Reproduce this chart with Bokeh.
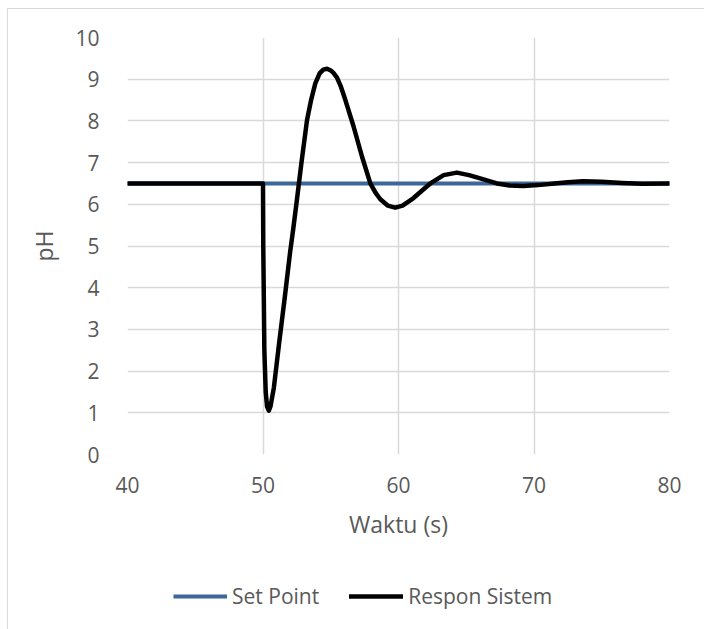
from bokeh.plotting import figure
from bokeh.models import Legend, LegendItem, FixedTicker
from bokeh.layouts import column
from bokeh.embed import file_html
from bokeh.resources import INLINE

# Data
time_sp = [40, 80]
set_point = [6.5, 6.5]

time_resp = [40, 50.0, 50.02, 50.1, 50.2, 50.3, 50.43, 50.55, 50.8, 51.2, 51.6, 52.0,
             52.22, 52.5, 52.83, 53.25, 53.55, 53.86, 54.18, 54.45, 54.73, 55.0,
             55.2, 55.46, 55.75, 56.08, 56.69, 57.31, 57.92, 58.3, 58.66, 59.2, 59.76, 60.3,
             61.11, 61.7, 62.35, 63.33, 64.31, 65.2, 66.03, 67.26, 68.2, 69.2,
             70.3, 71.5, 72.5, 73.6, 75.0, 76.5, 78.0, 80]
respon = [6.5, 6.5, 5.0, 2.5, 1.5, 1.15, 1.05, 1.15, 1.6, 2.7, 3.75, 4.85,
          5.38, 6.1, 6.98, 8.02, 8.5, 8.9, 9.14, 9.23, 9.25, 9.21,
          9.15, 9.04, 8.82, 8.5, 7.86, 7.14, 6.5, 6.28, 6.12, 5.97, 5.92, 5.97,
          6.15, 6.32, 6.5, 6.7, 6.76, 6.7, 6.62, 6.5, 6.45, 6.44,
          6.46, 6.5, 6.53, 6.55, 6.54, 6.51, 6.49, 6.5]

x_ticks = [40, 50, 60, 70, 80]
y_ticks = [0, 1, 2, 3, 4, 5, 6, 7, 8, 9, 10]
labels = ["Set Point", "Respon Sistem"]

FONT = "Open Sans"
TXT = "#595959"
GRID = "#d9d9d9"
SP_COLOR = "#3D6699"

# ---- main chart ----
p = figure(frame_width=542, frame_height=417, min_border_left=127, min_border_top=37,
           min_border_right=35, min_border_bottom=110,
           x_range=(40, 80), y_range=(0, 10),
           output_backend="svg", toolbar_location=None)
p.outline_line_color = None
p.background_fill_color = "white"
p.border_fill_color = None

for g in (p.xgrid, p.ygrid):
    g.grid_line_color = GRID
    g.grid_line_width = 1.5
p.xgrid.ticker = FixedTicker(ticks=x_ticks)
p.ygrid.ticker = FixedTicker(ticks=y_ticks)
p.xaxis.ticker = FixedTicker(ticks=x_ticks)
p.yaxis.ticker = FixedTicker(ticks=y_ticks)
for ax in (p.xaxis[0], p.yaxis[0]):
    ax.axis_line_color = None
    ax.major_tick_line_color = None
    ax.minor_tick_line_color = None
    ax.major_label_text_font = FONT
    ax.major_label_text_font_size = "21px"
    ax.major_label_text_color = TXT
    ax.axis_label_text_font = FONT
    ax.axis_label_text_font_size = "23px"
    ax.axis_label_text_font_style = "normal"
    ax.axis_label_text_color = TXT
p.xaxis.axis_label = "Waktu (s)"
p.yaxis.axis_label = "pH"
p.xaxis.major_label_standoff = 16
p.yaxis.major_label_standoff = 22
p.xaxis.axis_label_standoff = 12
p.yaxis.axis_label_standoff = 12

p.line(time_sp, set_point, line_color=SP_COLOR, line_width=4)
p.line(time_resp, respon, line_color="black", line_width=4.5,
       line_join="round", line_cap="round")

# ---- legend strip (same series, legend only) ----
q = figure(width=704, height=65, min_border=0, x_range=(0, 1), y_range=(0, 1),
           output_backend="svg", toolbar_location=None)
q.axis.visible = False
q.grid.visible = False
q.outline_line_color = None
q.background_fill_color = None
q.border_fill_color = None
l_sp = q.line(time_sp, set_point, line_color=SP_COLOR, line_width=4)
l_rs = q.line(time_resp, respon, line_color="black", line_width=4.5, line_cap="round")
legend = Legend(items=[LegendItem(label=labels[0], renderers=[l_sp]),
                       LegendItem(label=labels[1], renderers=[l_rs])],
                orientation="horizontal", location=(46, 19),
                glyph_width=54, glyph_height=20, label_standoff=5, spacing=30,
                padding=0, margin=0, border_line_color=None,
                background_fill_alpha=0,
                label_text_font=FONT, label_text_font_size="21px",
                label_text_color=TXT)
q.add_layout(legend, "center")

layout = column(p, q, spacing=0)
layout.styles = {"background": ("linear-gradient(#d9d9d9,#d9d9d9) 7px 8px / 697px 1px no-repeat, "
                                "linear-gradient(#d9d9d9,#d9d9d9) 7px 8px / 1px 621px no-repeat, white")}

open("out.html", "w").write(file_html(layout, INLINE))
